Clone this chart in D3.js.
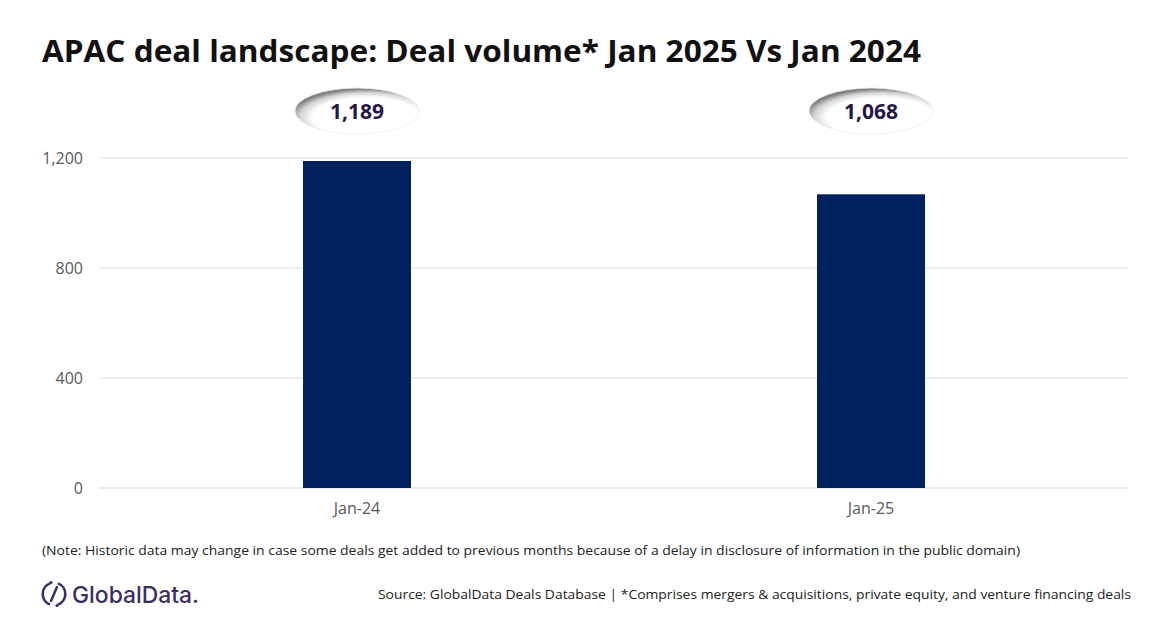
<!DOCTYPE html>
<html><head><meta charset="utf-8">
<script src="https://cdn.jsdelivr.net/npm/d3@7/dist/d3.min.js"></script>
<style>body{margin:0;background:#fff;} svg{display:block;}</style>
</head><body>
<script>
const categories = ["Jan-24", "Jan-25"];
const values = [1189, 1068];
const valueLabels = ["1,189", "1,068"];
const yTicks = [0, 400, 800, 1200];
const titleText = "APAC deal landscape: Deal volume* Jan 2025 Vs Jan 2024";
const noteText = "(Note: Historic data may change in case some deals get added to previous months because of a delay in disclosure of information in the public domain)";
const sourceText = "Source: GlobalData Deals Database | *Comprises mergers & acquisitions, private equity, and venture financing deals";

const W = 1172, H = 628;
const svg = d3.select("body").append("svg").attr("width", W).attr("height", H);
const font = "'Open Sans', 'Noto Sans', sans-serif";

const defs = svg.append("defs");
const rg = defs.append("radialGradient").attr("id", "ellG")
  .attr("cx", "58%").attr("cy", "64%").attr("r", "62%");
rg.append("stop").attr("offset", "0%").attr("stop-color", "#ffffff");
rg.append("stop").attr("offset", "70%").attr("stop-color", "#ffffff");
rg.append("stop").attr("offset", "87%").attr("stop-color", "#d4d4d4");
rg.append("stop").attr("offset", "100%").attr("stop-color", "#808080");

// Title
svg.append("text").attr("x", 42).attr("y", 62)
  .attr("font-family", font).attr("font-weight", 700).attr("font-size", 31)
  .attr("fill", "#111").attr("textLength", 879).attr("lengthAdjust", "spacingAndGlyphs")
  .text(titleText);

const x = d3.scaleBand().domain(categories).range([100, 1128]).padding(0);
const y = d3.scaleLinear().domain([0, 1200]).range([488, 158]);
const barW = 108;

// Gridlines
svg.append("g").selectAll("line").data(yTicks).join("line")
  .attr("x1", 100).attr("x2", 1128)
  .attr("y1", d => y(d)).attr("y2", d => y(d))
  .attr("stroke", "#d9d9de").attr("stroke-width", 1);

// Y axis labels
const yAxis = d3.axisLeft(y).tickValues(yTicks).tickSize(0).tickPadding(0)
  .tickFormat(d3.format(","));
const gy = svg.append("g").attr("transform", "translate(83,0)").call(yAxis);
gy.select(".domain").remove();
gy.selectAll("text").attr("font-family", font).attr("font-size", 16).attr("fill", "#595959");

// X axis labels
const xAxis = d3.axisBottom(x).tickSize(0).tickPadding(0);
const gx = svg.append("g").attr("transform", "translate(0,503)").call(xAxis);
gx.select(".domain").remove();
gx.selectAll("text").attr("font-family", font).attr("font-size", 16).attr("fill", "#595959");

// Bars
svg.append("g").selectAll("rect").data(values).join("rect")
  .attr("x", (d, i) => x(categories[i]) + x.bandwidth() / 2 - barW / 2)
  .attr("width", barW)
  .attr("y", d => y(d))
  .attr("height", d => y(0) - y(d))
  .attr("fill", "#002060");

// Value bubbles
const bub = svg.append("g").selectAll("g").data(values).join("g")
  .attr("transform", (d, i) => `translate(${x(categories[i]) + x.bandwidth() / 2},111)`);
bub.append("ellipse").attr("rx", 62).attr("ry", 23).attr("fill", "url(#ellG)")
  .attr("stroke", "#ececec").attr("stroke-width", 0.8);
bub.append("text").attr("y", 8).attr("text-anchor", "middle")
  .attr("font-family", font).attr("font-weight", 700).attr("font-size", 21)
  .attr("fill", "#26174a").text((d, i) => valueLabels[i]);

// Note
svg.append("text").attr("x", 42).attr("y", 555)
  .attr("font-family", font).attr("font-size", 12.5).attr("fill", "#222")
  .attr("textLength", 978).attr("lengthAdjust", "spacingAndGlyphs")
  .text(noteText);

// Source
svg.append("text").attr("x", 1131).attr("y", 599).attr("text-anchor", "end")
  .attr("font-family", font).attr("font-size", 13).attr("fill", "#222")
  .attr("textLength", 753).attr("lengthAdjust", "spacingAndGlyphs")
  .text(sourceText);

// Logo
const logo = svg.append("g").attr("transform", "translate(54,594)");
const purple = "#3d2c63";
logo.append("path")
  .attr("d", d3.arc()({innerRadius: 10, outerRadius: 12.6, startAngle: 0.35, endAngle: Math.PI - 0.35}))
  .attr("fill", purple);
logo.append("path")
  .attr("d", d3.arc()({innerRadius: 10, outerRadius: 12.6, startAngle: Math.PI + 0.35, endAngle: 2 * Math.PI - 0.35}))
  .attr("fill", purple);
logo.append("line").attr("x1", 3).attr("y1", -7).attr("x2", -3).attr("y2", 7)
  .attr("stroke", purple).attr("stroke-width", 2.4).attr("stroke-linecap", "round");
logo.append("circle").attr("cx", -3).attr("cy", -11.5).attr("r", 1.6).attr("fill", purple);
logo.append("circle").attr("cx", 3).attr("cy", 11.5).attr("r", 1.6).attr("fill", purple);
svg.append("text").attr("x", 72).attr("y", 603)
  .attr("font-family", "'Inter', 'Open Sans', sans-serif").attr("font-size", 23).attr("font-weight", 500)
  .attr("fill", purple).attr("textLength", 127).attr("lengthAdjust", "spacingAndGlyphs")
  .text("GlobalData.");
</script>
</body></html>
